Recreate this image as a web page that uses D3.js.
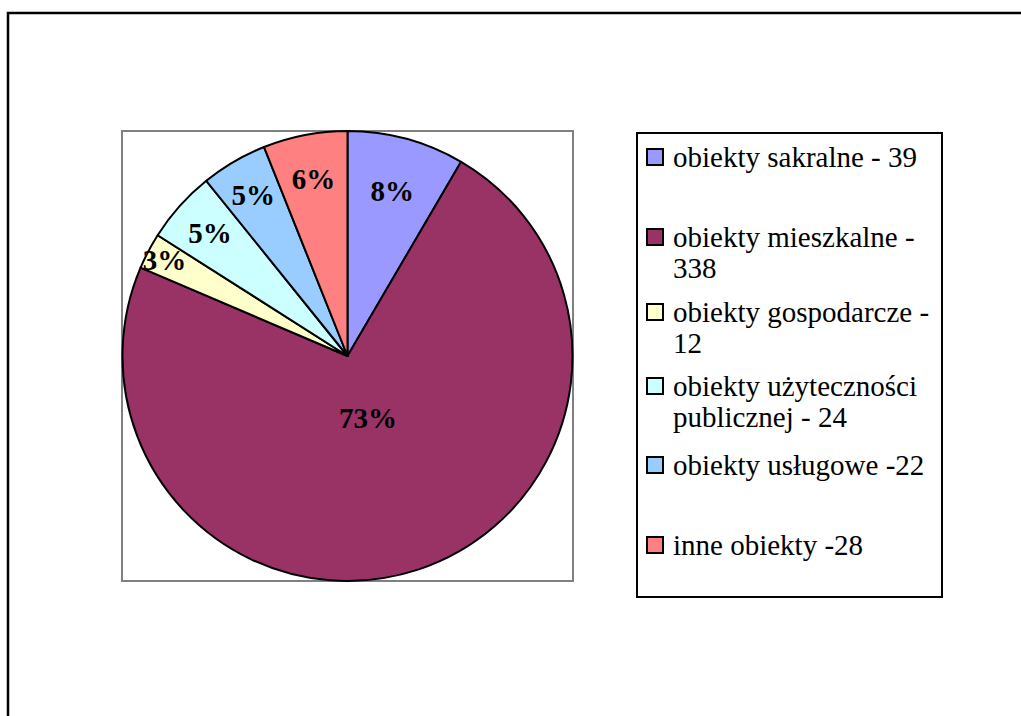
<!DOCTYPE html>
<html><head><meta charset="utf-8">
<script src="https://cdn.jsdelivr.net/npm/d3@7"></script>
<style>body{margin:0;background:#fff}svg{display:block}</style>
</head><body>
<script>
const categories = ["obiekty sakralne - 39","obiekty mieszkalne - 338","obiekty gospodarcze - 12","obiekty użyteczności publicznej - 24","obiekty usługowe -22","inne obiekty -28"];
const legendLines = [["obiekty sakralne - 39"],["obiekty mieszkalne -","338"],["obiekty gospodarcze -","12"],["obiekty użyteczności","publicznej - 24"],["obiekty usługowe -22"],["inne obiekty -28"]];
const values = [39, 338, 12, 24, 22, 28];
const colors = ["#9999FF","#993366","#FFFFCC","#CCFFFF","#99CCFF","#FF8080"];
const labelRadius = [0.76, 0.29, 0.92, 0.82, 0.83, 0.8];
const legendRowY = [157, 237, 312, 386, 465, 545];

const W = 1021, H = 716;
const svg = d3.select("body").append("svg").attr("width", W).attr("height", H);
svg.append("rect").attr("x", 8).attr("y", 13).attr("width", 1100).attr("height", 800)
  .attr("fill", "#fff").attr("stroke", "#000").attr("stroke-width", 2.5);

const plot = {x: 122, y: 131, w: 451, h: 450};
svg.append("rect").attr("x", plot.x).attr("y", plot.y).attr("width", plot.w).attr("height", plot.h)
  .attr("fill", "#fff").attr("stroke", "#808080").attr("stroke-width", 2);

const cx = plot.x + plot.w/2, cy = plot.y + plot.h/2, r = 225;
const total = d3.sum(values);
const pie = d3.pie().sort(null).value(d => d)(values);
const arc = d3.arc().innerRadius(0).outerRadius(r);
const g = svg.append("g").attr("transform", `translate(${cx},${cy})`);
g.selectAll("path").data(pie).join("path")
  .attr("d", arc).attr("fill", (d,i) => colors[i]).attr("stroke", "#000").attr("stroke-width", 2).attr("stroke-linejoin","round");
g.selectAll("text").data(pie).join("text")
  .attr("transform", (d,i) => {
    const a = (d.startAngle + d.endAngle)/2, rr = r*labelRadius[i];
    return `translate(${rr*Math.sin(a)},${-rr*Math.cos(a)})`;
  })
  .attr("text-anchor", "middle").attr("dy", "0.35em")
  .style("font-family", "'Liberation Serif','Times New Roman',serif").style("font-weight", "bold").style("font-size", "29px")
  .text(d => Math.round(d.value/total*100) + "%");

// legend
const lg = svg.append("g");
lg.append("rect").attr("x", 637).attr("y", 133).attr("width", 305).attr("height", 464)
  .attr("fill", "#fff").attr("stroke", "#000").attr("stroke-width", 2);
legendLines.forEach((lines, i) => {
  const y0 = legendRowY[i];
  lg.append("rect").attr("x", 647).attr("y", y0 - 8).attr("width", 16).attr("height", 16)
    .attr("fill", colors[i]).attr("stroke", "#000").attr("stroke-width", 2);
  const t = lg.append("text").attr("x", 673).attr("y", y0)
    .style("font-family", "'Liberation Serif','Times New Roman',serif").style("font-size", "29px").attr("fill","#000");
  lines.forEach((l, k) => t.append("tspan").attr("x", 673).attr("dy", k === 0 ? "0.35em" : 31).text(l));
});
</script>
</body></html>
